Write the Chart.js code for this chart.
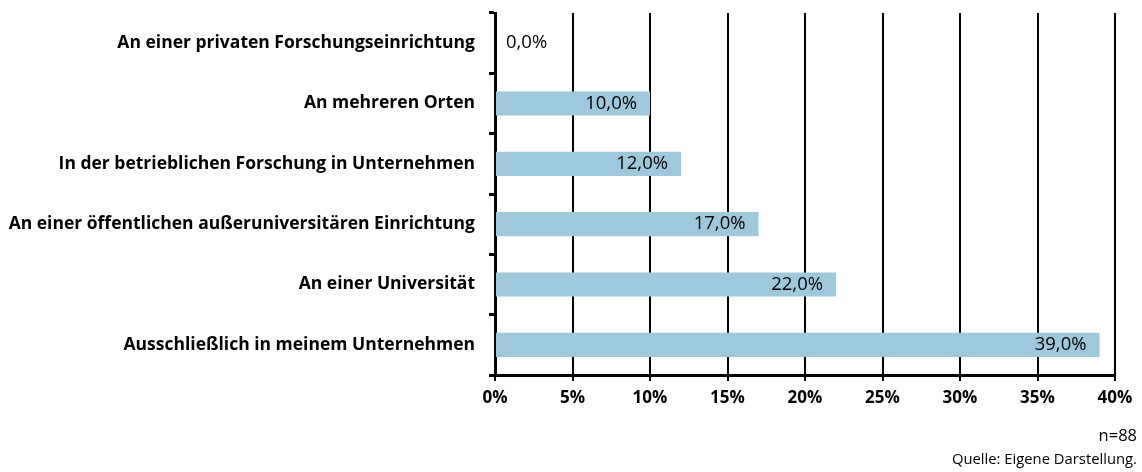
<!DOCTYPE html>
<html><head><meta charset="utf-8">
<script src="https://cdn.jsdelivr.net/npm/chart.js@4"></script>
<style>html,body{margin:0;padding:0;background:#fff}#wrap{width:1142px;height:472px;position:relative}</style>
</head><body><div id="wrap"><canvas id="c"></canvas></div>
<script>
const categories = [
  "An einer privaten Forschungseinrichtung",
  "An mehreren Orten",
  "In der betrieblichen Forschung in Unternehmen",
  "An einer öffentlichen außeruniversitären Einrichtung",
  "An einer Universität",
  "Ausschließlich in meinem Unternehmen"
];
const values = [0, 10, 12, 17, 22, 39];
const xTicks = [0, 5, 10, 15, 20, 25, 30, 35, 40];
const footnotes = ["n=88", "Quelle: Eigene Darstellung."];

const FONT = "'Open Sans'";
const fmt = v => v.toFixed(1).replace('.', ',') + '%';

const labelPlugin = {
  id: 'barLabels',
  afterDatasetsDraw(chart) {
    const ctx = chart.ctx;
    const meta = chart.getDatasetMeta(0);
    ctx.save();
    ctx.font = "18.5px " + FONT;
    ctx.fillStyle = "#000";
    ctx.textBaseline = "middle";
    meta.data.forEach((bar, i) => {
      const v = values[i];
      if (v === 0) { ctx.textAlign = "left"; ctx.fillText(fmt(v), bar.base + 11, bar.y); }
      else { ctx.textAlign = "right"; ctx.fillText(fmt(v), bar.x - 13, bar.y); }
    });
    ctx.restore();
  }
};
const footPlugin = {
  id: 'foot',
  afterDraw(chart) {
    const ctx = chart.ctx;
    ctx.save();
    ctx.fillStyle = "#000";
    ctx.textAlign = "right";
    ctx.textBaseline = "middle";
    ctx.font = "16.5px " + FONT;
    ctx.fillText(footnotes[0], 1137, 436);
    ctx.font = "14.8px " + FONT;
    ctx.fillText(footnotes[1], 1137, 460);
    ctx.restore();
  }
};

new Chart(document.getElementById('c'), {
  type: 'bar',
  data: { labels: categories, datasets: [{ data: values, backgroundColor: '#9ec9dc', categoryPercentage: 0.4, barPercentage: 1 }] },
  options: {
    indexAxis: 'y', responsive: true, maintainAspectRatio: false, animation: false,
    layout: { padding: { top: 13, right: 27, left: 0, bottom: 57 } },
    plugins: { legend: { display: false }, tooltip: { enabled: false } },
    scales: {
      y: {
        grid: { drawOnChartArea: false, offset: true, color: '#000', lineWidth: 3, tickLength: 6 },
        border: { color: '#000', width: 3 },
        ticks: { color: '#000', font: { family: FONT, size: 17.5, weight: 'bold' }, padding: 14 },
        afterFit: s => { s.width = 495; s.paddingTop = 0; s.paddingBottom = 0; }
      },
      x: {
        min: 0, max: 40,
        afterBuildTicks: s => { s.ticks = xTicks.map(v => ({ value: v })); },
        grid: { color: '#000', lineWidth: 2, tickLength: 6 },
        border: { color: '#000', width: 3 },
        ticks: { color: '#000', font: { family: FONT, size: 17, weight: 'bold' }, padding: 7, callback: v => v + '%' },
        afterFit: s => { s.height = 40; }
      }
    }
  },
  plugins: [labelPlugin, footPlugin]
});
</script></body></html>
